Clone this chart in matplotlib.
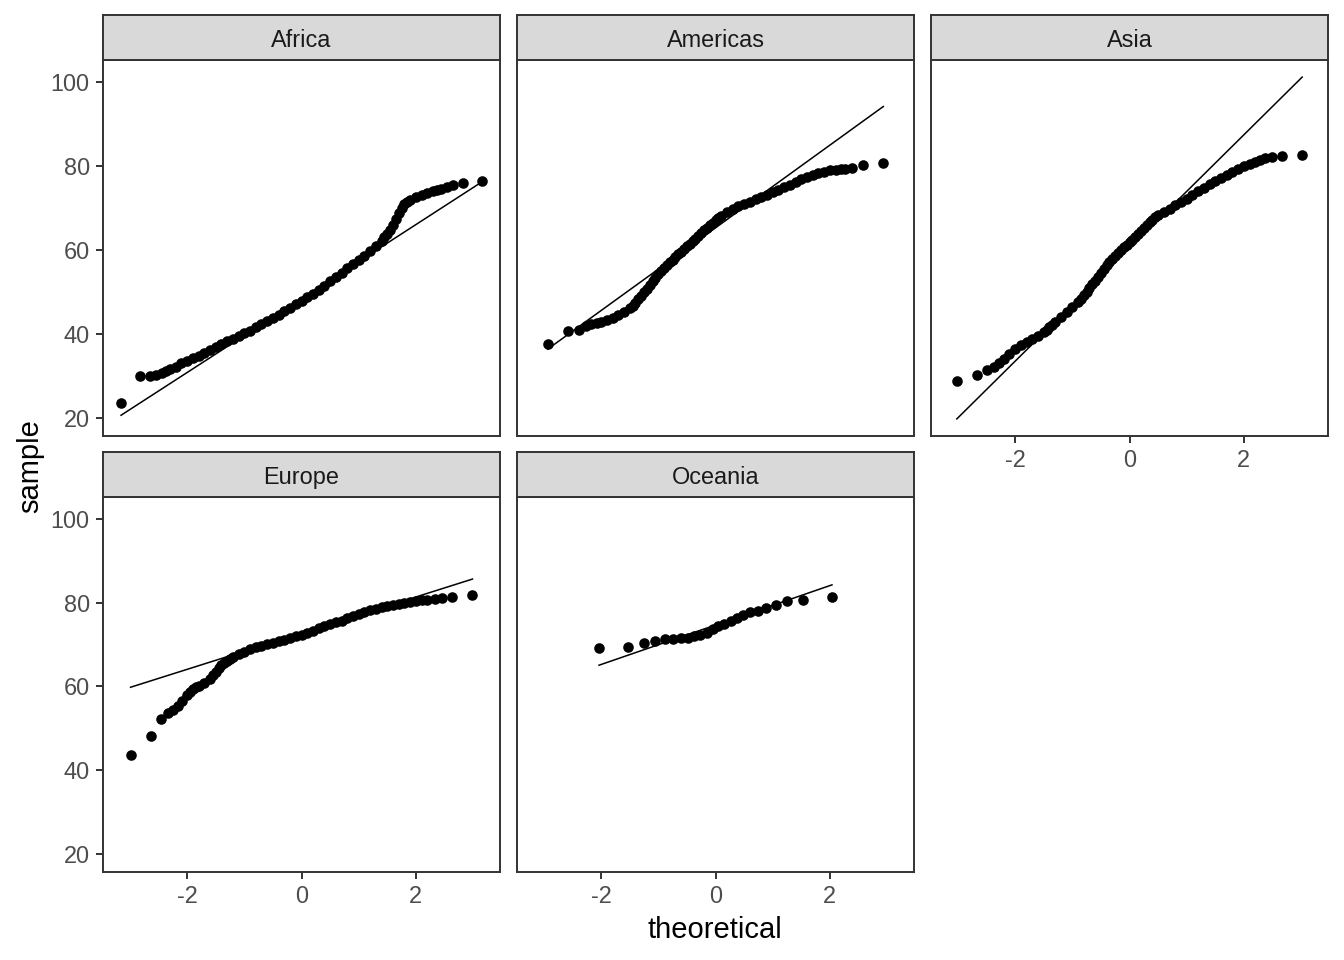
import numpy as np
import matplotlib
matplotlib.use("Agg")
import matplotlib.pyplot as plt

plt.rcParams['font.family'] = ['Liberation Sans', 'DejaVu Sans']
plt.rcParams['axes.unicode_minus'] = False

# life expectancy QQ data (theoretical quantile, sample)
continents = ["Africa", "Americas", "Asia", "Europe", "Oceania"]

africa_q = [-3.156, -2.82, -2.65, -2.536, -2.446, -2.37,
            -2.3, -2.2, -2.1, -2.0, -1.9, -1.8, -1.7, -1.6, -1.5, -1.4, -1.3, -1.2,
            -1.1, -1.0, -0.9, -0.8, -0.7, -0.6, -0.5, -0.4, -0.3, -0.2, -0.1, 0.0,
            0.1, 0.2, 0.3, 0.4, 0.5, 0.6, 0.7, 0.8, 0.9, 1.0, 1.1, 1.2, 1.3, 1.4,
            1.45, 1.5, 1.55, 1.6, 1.65, 1.7, 1.75, 1.8, 1.85, 1.9,
            2.0, 2.1, 2.2, 2.3, 2.37, 2.446, 2.536, 2.65, 2.82, 3.156]
africa_y = [23.6, 29.9, 30.0, 30.3, 30.6, 31.2,
            31.6, 32.2, 33.0, 33.6, 34.2, 34.8, 35.5, 36.1, 36.8, 37.5, 38.2, 38.8,
            39.5, 40.1, 40.8, 41.6, 42.3, 43.0, 43.8, 44.6, 45.4, 46.2, 47.0, 47.8,
            48.7, 49.6, 50.5, 51.5, 52.5, 53.6, 54.6, 55.6, 56.6, 57.6, 58.6, 59.7, 60.9, 62.2,
            63.0, 63.8, 64.8, 66.0, 67.4, 68.8, 70.0, 70.8, 71.4, 71.8,
            72.5, 73.1, 73.6, 74.0, 74.2, 74.5, 74.9, 75.4, 76.0, 76.4]

americas_q = [-2.935, -2.576, -2.394, -2.27, -2.17, -2.08,
              -2.0, -1.9, -1.8, -1.7, -1.6, -1.5, -1.45, -1.4, -1.35, -1.3, -1.25,
              -1.2, -1.15, -1.1, -1.05, -1.0, -0.95, -0.9, -0.85, -0.8, -0.75,
              -0.7, -0.65, -0.6, -0.55, -0.5, -0.45, -0.4, -0.35, -0.3, -0.25,
              -0.2, -0.15, -0.1, -0.05, 0.0, 0.05,
              0.1, 0.2, 0.3, 0.4, 0.5, 0.6, 0.7, 0.8, 0.9, 1.0, 1.1, 1.2, 1.3, 1.4,
              1.5, 1.6, 1.7, 1.8, 1.9, 2.0, 2.1, 2.2,
              2.27, 2.394, 2.576, 2.935]
americas_y = [37.6, 40.7, 40.9, 41.9, 42.3, 42.5,
              42.8, 43.3, 43.9, 44.5, 45.2, 46.1, 46.7, 47.4, 48.2, 49.0, 49.9,
              50.8, 51.7, 52.6, 53.4, 54.2, 55.0, 55.7, 56.4, 57.1, 57.7,
              58.3, 58.9, 59.5, 60.1, 60.8, 61.4, 62.1, 62.7, 63.4, 64.0,
              64.7, 65.3, 65.9, 66.5, 67.0, 67.5,
              68.0, 68.9, 69.7, 70.4, 71.0, 71.5, 72.0, 72.5, 73.1, 73.7, 74.3, 74.9, 75.5, 76.2,
              76.8, 77.4, 77.9, 78.3, 78.6, 78.9, 79.1, 79.2,
              79.3, 79.5, 80.2, 80.7]

asia_q = [-3.02, -2.67, -2.49, -2.37, -2.28, -2.2,
          -2.1, -2.0, -1.9, -1.8, -1.7, -1.6, -1.5, -1.45, -1.4, -1.35, -1.3,
          -1.2, -1.1, -1.0, -0.9, -0.85, -0.8, -0.75, -0.7, -0.65, -0.6, -0.55,
          -0.5, -0.45, -0.4, -0.35, -0.3, -0.25, -0.2, -0.15, -0.1, -0.05, 0.0,
          0.05, 0.1, 0.15, 0.2, 0.25, 0.3, 0.35, 0.4, 0.45, 0.5,
          0.6, 0.7, 0.8, 0.9, 1.0, 1.1, 1.2, 1.3, 1.4,
          1.5, 1.6, 1.7, 1.8, 1.9, 2.0, 2.1,
          2.2, 2.28, 2.37, 2.49, 2.67, 3.02]
asia_y = [28.8, 30.3, 31.3, 32.2, 33.2, 34.0,
          35.3, 36.4, 37.3, 38.1, 38.8, 39.5, 40.4, 41.0, 41.6, 42.2, 42.9,
          44.1, 45.3, 46.4, 47.6, 48.4, 49.2, 50.0, 50.9, 51.8, 52.7, 53.6,
          54.5, 55.4, 56.3, 57.1, 57.8, 58.5, 59.2, 59.9, 60.6, 61.2, 61.8,
          62.4, 63.1, 63.8, 64.5, 65.2, 65.9, 66.6, 67.0, 67.7, 68.2,
          69.0, 69.7, 70.6, 71.4, 72.2, 73.0, 73.9, 74.8, 75.6,
          76.3, 77.0, 77.8, 78.6, 79.3, 79.9, 80.4,
          80.9, 81.3, 81.8, 82.1, 82.3, 82.6]

europe_q = [-2.99, -2.64, -2.46, -2.335, -2.24, -2.16, -2.09,
            -2.0, -1.95, -1.9, -1.85, -1.8, -1.7, -1.6, -1.55, -1.5, -1.45, -1.4,
            -1.35, -1.3, -1.25, -1.2, -1.1, -1.0,
            -0.9, -0.8, -0.7, -0.6, -0.5, -0.4, -0.3, -0.2, -0.1, 0.0,
            0.1, 0.2, 0.3, 0.4, 0.5, 0.6, 0.7, 0.8, 0.9, 1.0, 1.1, 1.2, 1.3, 1.4,
            1.5, 1.6, 1.7, 1.8, 1.9, 2.0, 2.1, 2.2,
            2.335, 2.46, 2.64, 2.99]
europe_y = [43.6, 48.1, 52.3, 53.6, 54.4, 55.3, 56.6,
            58.0, 58.7, 59.3, 59.8, 60.2, 60.9, 61.8, 62.6, 63.5, 64.3, 65.0,
            65.6, 66.1, 66.5, 66.9, 67.6, 68.3,
            69.0, 69.4, 69.7, 70.0, 70.3, 70.7, 71.1, 71.6, 71.9, 72.3,
            72.8, 73.3, 73.8, 74.3, 74.9, 75.3, 75.7, 76.2, 76.7, 77.2, 77.7, 78.1, 78.5, 78.9,
            79.2, 79.5, 79.7, 79.9, 80.1, 80.3, 80.5, 80.7,
            80.9, 81.1, 81.4, 81.8]

oceania_q = [-2.037, -1.534, -1.258, -1.054, -0.887, -0.742, -0.611, -0.489,
             -0.374, -0.264, -0.157, -0.052, 0.052, 0.157, 0.264, 0.374,
             0.489, 0.611, 0.742, 0.887, 1.054, 1.258, 1.534, 2.037]
oceania_y = [69.1, 69.3, 70.4, 70.7, 71.2, 71.4, 71.5, 71.6,
             72.0, 72.2, 72.8, 73.7, 74.4, 74.8, 75.5, 76.3,
             76.9, 77.7, 77.9, 78.7, 79.3, 80.3, 80.6, 81.2]

x_ticks = [-2, 0, 2]
y_ticks = [20, 40, 60, 80, 100]

panels = [(africa_q, africa_y), (americas_q, americas_y), (asia_q, asia_y),
          (europe_q, europe_y), (oceania_q, oceania_y)]

Z75 = 0.6745  # normal quartile


def qq_line(q, y):
    """line through the first and third quartiles, like stat_qq_line"""
    q = np.asarray(q)
    y = np.asarray(y)
    order = np.argsort(q)
    q, y = q[order], y[order]
    y25 = np.interp(-Z75, q, y)
    y75 = np.interp(Z75, q, y)
    slope = (y75 - y25) / (2 * Z75)
    icpt = y25 + slope * Z75
    xs = np.array([q.min(), q.max()])
    return xs, icpt + slope * xs


W, H = 1344, 960


def box(l, t, r, b):
    return [l / W, 1 - b / H, (r - l) / W, (b - t) / H]


lines = [qq_line(q, y) for q, y in panels]

# shared limits with ggplot style 5% expansion
all_x = np.concatenate([np.asarray(q) for q, _ in panels] + [l[0] for l in lines])
all_y = np.concatenate([np.asarray(y) for _, y in panels] + [l[1] for l in lines])
xpad = (all_x.max() - all_x.min()) * 0.05
ypad = (all_y.max() - all_y.min()) * 0.05
xlim = (all_x.min() - xpad, all_x.max() + xpad)
ylim = (all_y.min() - ypad, all_y.max() + ypad)

dark = '#333333'
col_left = [103, 517, 931]
col_right = [500, 914, 1328]
strip_top = [15, 452]
panel_top = [60, 497]
panel_bot = [436, 872]

fig = plt.figure(figsize=(13.44, 9.6), dpi=100)

for i, name in enumerate(continents):
    row, col = divmod(i, 3)
    q, y = panels[i]
    ax = fig.add_axes(box(col_left[col], panel_top[row], col_right[col], panel_bot[row]))
    xs, ys = lines[i]
    ax.plot(xs, ys, color='black', lw=1.1, zorder=2)
    ax.scatter(q, y, s=58, c='black', linewidths=0, zorder=3)
    ax.set_xlim(xlim)
    ax.set_ylim(ylim)
    ax.set_xticks(x_ticks)
    ax.set_yticks(y_ticks)
    for sp in ax.spines.values():
        sp.set_color(dark)
        sp.set_linewidth(1.4)
    ax.tick_params(colors=dark, labelcolor='#4D4D4D', labelsize=16.9,
                   length=5.3, width=1.4, pad=4.3)
    show_x = row == 1 or i == 2
    show_y = col == 0
    ax.tick_params(axis='x', bottom=show_x, labelbottom=show_x)
    ax.tick_params(axis='y', left=show_y, labelleft=show_y)

    # facet strip
    sax = fig.add_axes(box(col_left[col], strip_top[row], col_right[col], panel_top[row]))
    sax.set_facecolor('#D9D9D9')
    sax.set_xticks([])
    sax.set_yticks([])
    for sp in sax.spines.values():
        sp.set_color(dark)
        sp.set_linewidth(1.4)
    sax.text(0.5, 0.29, name, ha='center', va='baseline', fontsize=16.9,
             color='#1A1A1A', transform=sax.transAxes)

fig.text(715 / W, 1 - 930 / H, 'theoretical', ha='center', va='center', fontsize=21)
fig.text(30 / W, 1 - 466 / H, 'sample', ha='center', va='center', fontsize=21,
         rotation=90)

fig.savefig('out.png', dpi=100)
